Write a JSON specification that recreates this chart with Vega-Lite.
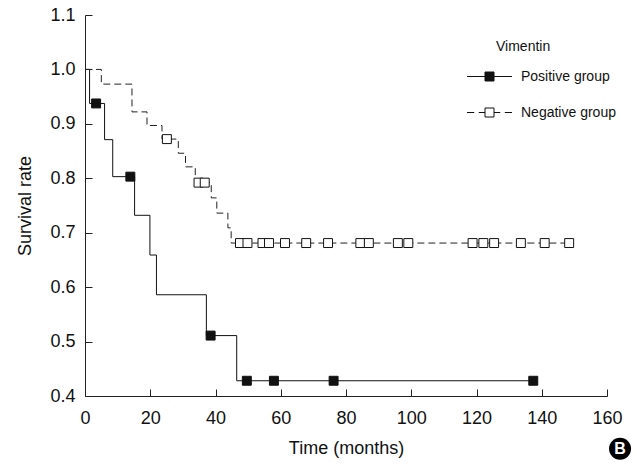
{
  "$schema": "https://vega.github.io/schema/vega-lite/v6.json",
  "width": 522,
  "height": 381,
  "autosize": {"type": "none"},
  "padding": {"left": 85, "top": 15, "right": 30, "bottom": 68},
  "background": "white",
  "config": {
    "view": {"stroke": null},
    "font": "Liberation Sans",
    "axis": {
      "grid": false,
      "domainColor": "#222",
      "tickColor": "#222",
      "labelColor": "#111",
      "titleColor": "#111",
      "labelFont": "Liberation Sans",
      "titleFont": "Liberation Sans",
      "labelFontSize": 18,
      "titleFontSize": 18,
      "titleFontWeight": "normal",
      "tickSize": -7,
      "labelPadding": 17
    }
  },
  "datasets": {
    "curve": [
      {"group": "Positive group", "t": 0, "s": 1.0},
      {"group": "Positive group", "t": 1.4, "s": 0.9375},
      {"group": "Positive group", "t": 6.0, "s": 0.871},
      {"group": "Positive group", "t": 8.5, "s": 0.803},
      {"group": "Positive group", "t": 15.2, "s": 0.732},
      {"group": "Positive group", "t": 19.9, "s": 0.659},
      {"group": "Positive group", "t": 21.9, "s": 0.586},
      {"group": "Positive group", "t": 37.2, "s": 0.511},
      {"group": "Positive group", "t": 46.5, "s": 0.428},
      {"group": "Positive group", "t": 137.4, "s": 0.428},
      {"group": "Negative group", "t": 0, "s": 1.0},
      {"group": "Negative group", "t": 5.0, "s": 0.973},
      {"group": "Negative group", "t": 14.4, "s": 0.922},
      {"group": "Negative group", "t": 19.0, "s": 0.897},
      {"group": "Negative group", "t": 23.6, "s": 0.872},
      {"group": "Negative group", "t": 28.6, "s": 0.846},
      {"group": "Negative group", "t": 30.8, "s": 0.821},
      {"group": "Negative group", "t": 33.8, "s": 0.792},
      {"group": "Negative group", "t": 38.7, "s": 0.764},
      {"group": "Negative group", "t": 40.4, "s": 0.736},
      {"group": "Negative group", "t": 43.8, "s": 0.709},
      {"group": "Negative group", "t": 44.8, "s": 0.681},
      {"group": "Negative group", "t": 148.4, "s": 0.681}
    ],
    "censor": [
      {"group": "Positive group", "t": 3.4, "s": 0.9375},
      {"group": "Positive group", "t": 13.9, "s": 0.803},
      {"group": "Positive group", "t": 38.5, "s": 0.511},
      {"group": "Positive group", "t": 49.6, "s": 0.428},
      {"group": "Positive group", "t": 57.9, "s": 0.428},
      {"group": "Positive group", "t": 76.2, "s": 0.428},
      {"group": "Positive group", "t": 137.4, "s": 0.428},
      {"group": "Negative group", "t": 25.1, "s": 0.872},
      {"group": "Negative group", "t": 34.8, "s": 0.792},
      {"group": "Negative group", "t": 36.7, "s": 0.792},
      {"group": "Negative group", "t": 47.5, "s": 0.681},
      {"group": "Negative group", "t": 49.8, "s": 0.681},
      {"group": "Negative group", "t": 54.4, "s": 0.681},
      {"group": "Negative group", "t": 56.4, "s": 0.681},
      {"group": "Negative group", "t": 61.3, "s": 0.681},
      {"group": "Negative group", "t": 67.8, "s": 0.681},
      {"group": "Negative group", "t": 74.5, "s": 0.681},
      {"group": "Negative group", "t": 84.4, "s": 0.681},
      {"group": "Negative group", "t": 87.0, "s": 0.681},
      {"group": "Negative group", "t": 95.9, "s": 0.681},
      {"group": "Negative group", "t": 99.1, "s": 0.681},
      {"group": "Negative group", "t": 118.8, "s": 0.681},
      {"group": "Negative group", "t": 122.1, "s": 0.681},
      {"group": "Negative group", "t": 125.4, "s": 0.681},
      {"group": "Negative group", "t": 133.6, "s": 0.681},
      {"group": "Negative group", "t": 140.9, "s": 0.681},
      {"group": "Negative group", "t": 148.4, "s": 0.681}
    ],
    "badge": [
      {"t": 164, "s": 0.303, "label": "B"}
    ]
  },
  "encoding": {
    "x": {
      "field": "t",
      "type": "quantitative",
      "title": "Time (months)",
      "scale": {"domain": [0, 160], "nice": false, "zero": false},
      "axis": {"values": [0, 20, 40, 60, 80, 100, 120, 140, 160], "labelPadding": 20, "titlePadding": 12, "labelFlush": false}
    },
    "y": {
      "field": "s",
      "type": "quantitative",
      "title": "Survival rate",
      "scale": {"domain": [0.4, 1.1], "nice": false, "zero": false},
      "axis": {"values": [0.4, 0.5, 0.6, 0.7, 0.8, 0.9, 1.0, 1.1], "format": ".1f", "titlePadding": 15, "labelFlush": false}
    }
  },
  "layer": [
    {
      "data": {"name": "curve"},
      "transform": [{"filter": "datum.group === 'Positive group'"}],
      "mark": {"type": "line", "interpolate": "step-after", "color": "#111", "strokeWidth": 1}
    },
    {
      "data": {"name": "curve"},
      "transform": [{"filter": "datum.group === 'Negative group'"}],
      "mark": {"type": "line", "interpolate": "step-after", "color": "#222", "strokeWidth": 1, "strokeDash": [7, 4]}
    },
    {
      "data": {"name": "censor"},
      "mark": {"type": "point", "shape": "square", "filled": true, "size": 80, "stroke": "#111", "strokeWidth": 1, "opacity": 1},
      "encoding": {
        "fill": {
          "field": "group",
          "type": "nominal",
          "scale": {"domain": ["Positive group", "Negative group"], "range": ["#111111", "#ffffff"]},
          "legend": {
            "title": "Vimentin",
            "orient": "none",
            "legendX": 386,
            "legendY": 25,
            "symbolSize": 1296,
            "symbolStrokeColor": "#111",
            "symbolStrokeWidth": 1,
            "symbolOpacity": 1,
            "rowPadding": 10,
            "labelOffset": 13,
            "labelFont": "Liberation Sans",
            "labelFontSize": 14,
            "labelColor": "#111",
            "titleFont": "Liberation Sans",
            "titleFontSize": 14,
            "titleFontWeight": "normal",
            "titleColor": "#111",
            "titlePadding": 4,
            "encode": {
              "title": {"update": {"dx": {"value": 25}}},
              "symbols": {
                "update": {
                  "shape": {"signal": "datum.value === 'Positive group' ? 'M-1.25,0H-0.25M0.25,0H1.25M-0.25,-0.25H0.25V0.25H-0.25Z' : 'M-1.25,0H-0.85M-0.6,0H-0.25M0.25,0H0.6M0.85,0H1.25M-0.25,-0.25H0.25V0.25H-0.25Z'"}
                }
              }
            }
          }
        }
      }
    },
    {
      "data": {"name": "badge"},
      "mark": {"type": "point", "shape": "circle", "filled": true, "size": 484, "color": "#000", "opacity": 1, "clip": false}
    },
    {
      "data": {"name": "badge"},
      "mark": {"type": "text", "color": "#fff", "fontWeight": "bold", "fontSize": 16, "font": "Liberation Sans", "clip": false},
      "encoding": {"text": {"field": "label"}}
    }
  ]
}
